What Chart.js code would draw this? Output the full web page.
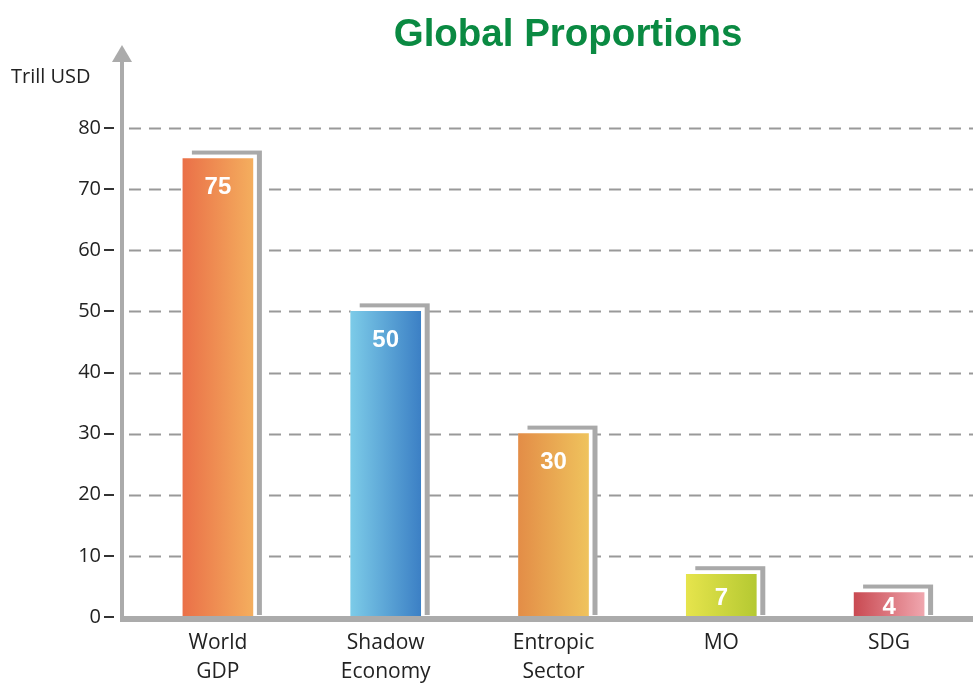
<!DOCTYPE html>
<html>
<head>
<meta charset="utf-8">
<script src="https://cdn.jsdelivr.net/npm/chart.js@4"></script>
<style>
  body { margin: 0; background: #fff; }
  #wrap { width: 973px; height: 684px; position: relative; }
</style>
</head>
<body>
<div id="wrap"><canvas id="proportionsChart"></canvas></div>
<script>
// Chart data
const categories = [['World', 'GDP'], ['Shadow', 'Economy'], ['Entropic', 'Sector'], 'MO', 'SDG'];
const values = [75, 50, 30, 7, 4];
const yTickStep = 10;
const yMax = 80;
const gradLeft = ['#ea7048', '#7ccbe8', '#e38d47', '#e6e44c', '#c94a52'];
const gradRight = ['#f4ae5e', '#3c80c5', '#efc35d', '#b5c932', '#f0a6ae'];

const BAR_W = 70;
const GRAY = '#ababab';

// grid, shadows, gradients, axes, labels
const decorations = {
  id: 'decorations',
  beforeDatasetsDraw(chart) {
    const { ctx, scales } = chart;
    const y = scales.y;
    ctx.save();
    // dashed grid lines
    ctx.strokeStyle = '#999';
    ctx.lineWidth = 2;
    ctx.setLineDash([12, 8]);
    for (let v = yTickStep; v <= yMax; v += yTickStep) {
      const py = Math.round(y.getPixelForValue(v)) + 0.5;
      ctx.beginPath();
      ctx.moveTo(129, py);
      ctx.lineTo(chart.width, py);
      ctx.stroke();
    }
    ctx.setLineDash([]);
    // offset gray frame behind each bar, then a horizontal gradient on the bar
    const meta = chart.getDatasetMeta(0);
    const base = y.getPixelForValue(0);
    meta.data.forEach((bar, i) => {
      const l = bar.x - BAR_W / 2, r = bar.x + BAR_W / 2;
      ctx.fillStyle = '#a9a9a9';
      ctx.fillRect(l + 9, bar.y - 8, BAR_W, base - bar.y + 6);
      ctx.fillStyle = '#fff';
      ctx.fillRect(l, bar.y - 4, BAR_W + 4, base - bar.y + 4);
      const g = ctx.createLinearGradient(l, 0, r, 0);
      g.addColorStop(0, gradLeft[i]);
      g.addColorStop(1, gradRight[i]);
      bar.options.backgroundColor = g;
    });
    ctx.restore();
  },
  afterDatasetsDraw(chart) {
    const { ctx, scales } = chart;
    const y = scales.y;
    const base = y.getPixelForValue(0);
    ctx.save();
    // axes
    ctx.fillStyle = GRAY;
    ctx.fillRect(120, base - 1, chart.width - 120, 6);
    ctx.fillRect(120, 60, 4, base + 5 - 60);
    ctx.beginPath();
    ctx.moveTo(122, 45);
    ctx.lineTo(132, 62);
    ctx.lineTo(112, 62);
    ctx.closePath();
    ctx.fill();
    // tick marks
    ctx.strokeStyle = '#333';
    ctx.lineWidth = 2;
    for (let v = 0; v <= yMax; v += yTickStep) {
      const py = Math.round(y.getPixelForValue(v));
      ctx.beginPath();
      ctx.moveTo(104, py);
      ctx.lineTo(114, py);
      ctx.stroke();
    }
    // value labels
    ctx.fillStyle = '#fff';
    ctx.font = 'bold 24px "Liberation Sans", Arial, sans-serif';
    ctx.textAlign = 'center';
    ctx.textBaseline = 'middle';
    chart.getDatasetMeta(0).data.forEach((bar, i) => {
      const ly = Math.min(bar.y + 29, (bar.y + base) / 2 + 3);
      ctx.fillText(String(values[i]), bar.x, ly);
    });
    // title and unit
    ctx.fillStyle = '#0a8a42';
    ctx.font = 'bold 38.5px "Liberation Sans", Arial, sans-serif';
    ctx.textBaseline = 'alphabetic';
    ctx.fillText('Global Proportions', 568, 46);
    ctx.fillStyle = '#222';
    ctx.font = '20px "Open Sans", sans-serif';
    ctx.textAlign = 'left';
    ctx.textBaseline = 'middle';
    ctx.fillText('Trill USD', 11, 77);
    ctx.restore();
  }
};

new Chart(document.getElementById('proportionsChart'), {
  type: 'bar',
  data: {
    labels: categories,
    datasets: [{
      data: values,
      // scriptable so every bar keeps its own options object
      backgroundColor: c => gradLeft[c.dataIndex] || gradLeft[0],
      borderWidth: 0,
      barThickness: BAR_W
    }]
  },
  options: {
    responsive: true,
    maintainAspectRatio: false,
    animation: false,
    layout: { padding: { top: 128, right: -2, bottom: 0, left: 0 } },
    plugins: {
      legend: { display: false },
      tooltip: { enabled: false },
      title: { display: false }
    },
    scales: {
      x: {
        grid: { display: false, drawTicks: false },
        border: { display: false },
        ticks: {
          color: '#222',
          font: { family: '"Open Sans", sans-serif', size: 21, lineHeight: 1.38 },
          padding: 12,
          maxRotation: 0,
          autoSkip: false
        },
        afterFit: s => { s.height = 67; }
      },
      y: {
        min: 0,
        max: yMax,
        grid: { display: false, drawTicks: false },
        border: { display: false },
        ticks: {
          stepSize: yTickStep,
          color: '#222',
          font: { family: '"Open Sans", sans-serif', size: 20 },
          padding: 33
        },
        afterFit: s => { s.width = 134; }
      }
    }
  },
  plugins: [decorations]
});
</script>
</body>
</html>
